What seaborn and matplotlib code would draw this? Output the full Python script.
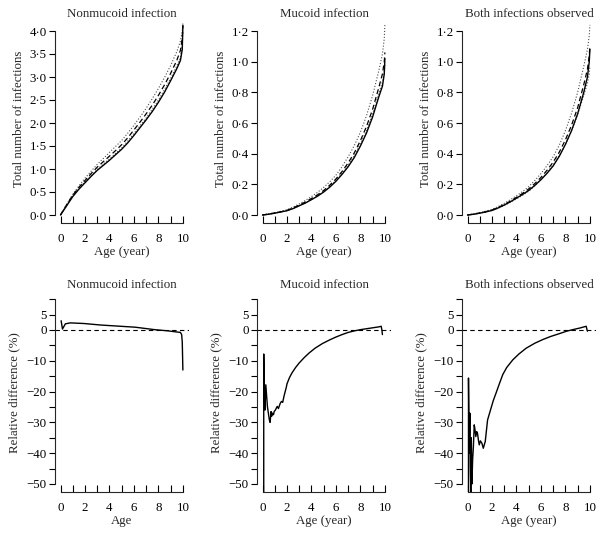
"""
Cumulative number of infections by age (top row) and relative difference
between the two estimates (bottom row), three infection types.

RUN:

python plot.py
"""
import numpy as np
import pandas as pd
import seaborn as sns
import matplotlib.pyplot as plt
from matplotlib.ticker import FuncFormatter, FixedLocator


# top row: cumulative number of infections
titles = ['Nonmucoid infection', 'Mucoid infection', 'Both infections observed']

age_grid = [0, 0.5, 1, 1.5, 2, 2.5, 3, 3.5, 4, 4.5, 5, 5.5, 6, 6.5, 7, 7.5, 8, 8.5,
            9, 9.5, 9.8, 9.95, 10]

non_solid = [0, 0.20, 0.40, 0.56, 0.70, 0.84, 0.97, 1.08, 1.19, 1.31, 1.43, 1.57, 1.73,
             1.90, 2.07, 2.25, 2.45, 2.67, 2.92, 3.18, 3.36, 3.60, 4.12]
non_dashed = [0, 0.22, 0.43, 0.60, 0.75, 0.90, 1.04, 1.16, 1.28, 1.40, 1.53, 1.68, 1.85,
              2.02, 2.20, 2.39, 2.60, 2.83, 3.08, 3.36, 3.58, 3.85, 4.12]
non_upper = [0, 0.23, 0.45, 0.63, 0.80, 0.95, 1.10, 1.23, 1.36, 1.49, 1.62, 1.78, 1.95,
             2.13, 2.32, 2.53, 2.75, 2.99, 3.25, 3.55, 3.78, 4.00, 4.17]
non_lower = [0, 0.21, 0.42, 0.58, 0.72, 0.86, 0.99, 1.11, 1.22, 1.34, 1.46, 1.61, 1.77,
             1.94, 2.11, 2.30, 2.50, 2.73, 2.97, 3.24, 3.42, 3.70, 3.98]

muc_solid = [0, 0.005, 0.012, 0.020, 0.028, 0.042, 0.060, 0.078, 0.100, 0.123, 0.150, 0.182,
             0.220, 0.265, 0.315, 0.375, 0.450, 0.535, 0.640, 0.770, 0.840, 0.920, 1.02]
muc_dashed = [0, 0.006, 0.013, 0.021, 0.030, 0.046, 0.065, 0.085, 0.108, 0.132, 0.160, 0.195,
              0.235, 0.284, 0.340, 0.405, 0.485, 0.578, 0.690, 0.830, 0.920, 1.000, 1.06]
muc_upper = [0, 0.007, 0.015, 0.024, 0.035, 0.052, 0.072, 0.095, 0.120, 0.148, 0.180, 0.217,
             0.260, 0.315, 0.380, 0.453, 0.540, 0.648, 0.780, 0.940, 1.050, 1.150, 1.24]
muc_lower = [0, 0.005, 0.012, 0.020, 0.028, 0.043, 0.060, 0.079, 0.100, 0.124, 0.152, 0.186,
             0.225, 0.272, 0.325, 0.388, 0.465, 0.552, 0.660, 0.790, 0.870, 0.930, 0.98]

both_solid = [0, 0.005, 0.012, 0.020, 0.030, 0.046, 0.065, 0.086, 0.110, 0.134, 0.160, 0.193,
              0.230, 0.272, 0.320, 0.383, 0.460, 0.550, 0.660, 0.800, 0.900, 1.000, 1.08]
both_dashed = [0, 0.006, 0.013, 0.022, 0.032, 0.049, 0.068, 0.090, 0.115, 0.141, 0.170, 0.205,
               0.245, 0.292, 0.345, 0.410, 0.490, 0.585, 0.700, 0.850, 0.950, 1.040, 1.10]
both_upper = [0, 0.007, 0.015, 0.025, 0.037, 0.055, 0.076, 0.100, 0.125, 0.153, 0.185, 0.225,
              0.270, 0.322, 0.380, 0.455, 0.550, 0.663, 0.800, 0.970, 1.080, 1.170, 1.24]
both_lower = [0, 0.005, 0.012, 0.020, 0.029, 0.044, 0.062, 0.083, 0.105, 0.129, 0.155, 0.190,
              0.232, 0.277, 0.328, 0.388, 0.460, 0.548, 0.655, 0.780, 0.860, 0.920, 0.97]

# bottom row: relative difference (%)
rd_non_age = [0.05, 0.16, 0.4, 0.8, 1.9, 3.3, 6.1, 7.7, 8.8, 9.8, 9.9, 9.95, 10.0]
rd_non = [3.0, 0.3, 2.0, 2.3, 2.1, 1.6, 0.9, 0.1, -0.3, -0.8, -1.5, -4.0, -13.0]

rd_muc_age = [0.1, 0.1, 0.15, 0.2, 0.27, 0.4, 0.55, 0.62, 0.7, 0.75, 0.8, 0.9, 0.95, 1.05,
              1.2, 1.3, 1.45, 1.55, 1.65, 1.75, 1.95, 2.0, 2.2, 2.4, 2.7, 3.0, 3.4, 3.8,
              4.3, 4.9, 5.5, 6.0, 6.5, 7.0, 7.5, 8.0, 8.5, 9.0, 9.5, 9.7, 9.75, 9.8]
rd_muc = [-53, -7.8, -20, -26, -17.8, -24.8, -29, -30, -26.5, -28, -27, -27.5, -26.5, -26,
          -24.8, -25.5, -23.8, -23.2, -23.5, -21.6, -18.5, -17.5, -15.5, -14.0, -12.2, -10.7,
          -9.0, -7.5, -5.9, -4.4, -3.2, -2.3, -1.5, -0.8, -0.3, 0.1, 0.4, 0.7, 1.0, 1.2, 0.1,
          -1.5]

rd_both_age = [0.08, 0.08, 0.14, 0.19, 0.23, 0.27, 0.31, 0.36, 0.42, 0.48, 0.55, 0.6, 0.68,
               0.75, 0.82, 0.9, 0.96, 1.05, 1.18, 1.29, 1.45, 1.64, 1.84, 2.1, 2.33, 2.6,
               2.88, 3.2, 3.7, 4.2, 4.8, 5.5, 6.16, 6.8, 7.5, 8.1, 8.6, 9.2, 9.7, 9.75, 9.8]
rd_both = [-53, -15.6, -40, -27, -45, -53, -35, -50, -42, -38, -30.8, -32, -34.6, -33,
           -33.6, -36, -37.3, -36, -36.8, -38.4, -36.2, -29.2, -26.5, -23.0, -20.5, -17.5,
           -14.5, -12.2, -9.7, -7.8, -5.9, -4.3, -3.1, -2.1, -1.2, -0.4, 0.1, 0.65, 1.2, 0.3,
           -0.4]

FONTSIZE = 9.3
W, H = 604, 534


def _axes_at(fig, left, top, width, height):
    # pixel box (origin top-left) -> figure fraction
    return fig.add_axes([left / W, 1 - (top + height) / H, width / W, height / H])


def _dot_fmt(v, pos):
    return f'{v:.1f}'.replace('.', '\u00b7')


def _minus_fmt(v, pos):
    if v in (-45, -35, -25, -15, -5, 10):
        return ''
    return f'{v:g}'.replace('-', '\u2212')


def _style(ax, xoffset):
    sns.despine(ax=ax)
    ax.spines['bottom'].set_position(('outward', xoffset))
    ax.spines['bottom'].set_bounds(0, 10)
    for s in ('left', 'bottom'):
        ax.spines[s].set_linewidth(0.8)
    ax.set_xlim(-0.45, 10.5)
    ax.xaxis.set_major_locator(FixedLocator(range(0, 11)))
    ax.set_xticklabels([str(i) if i % 2 == 0 else '' for i in range(0, 11)])
    ax.tick_params(axis='x', direction='in', length=5, width=0.8, pad=7.5,
                   labelsize=FONTSIZE, colors='black')
    ax.tick_params(axis='y', direction='out', length=4, width=0.8, pad=2,
                   labelsize=FONTSIZE, colors='black')
    ax.set_facecolor('none')


def main():
    sns.set_theme(style='ticks')
    plt.rcParams['font.family'] = ['Liberation Serif', 'DejaVu Serif']
    plt.rcParams['axes.unicode_minus'] = True

    fig = plt.figure(figsize=(W / 100, H / 100), dpi=100)
    lefts = [55, 257, 462]
    width = 134

    top_sets = [
        (non_solid, non_dashed, non_upper, non_lower, 4.0, 0.5),
        (muc_solid, muc_dashed, muc_upper, muc_lower, 1.2, 0.2),
        (both_solid, both_dashed, both_upper, both_lower, 1.2, 0.2),
    ]
    for i, (sol, das, up, lo, ymax, step) in enumerate(top_sets):
        ax = _axes_at(fig, lefts[i], 22, width, 194)
        df = pd.DataFrame({'age': age_grid, 'solid': sol, 'dashed': das,
                           'upper': up, 'lower': lo})
        for col, ls, lw, c in [('upper', ':', 0.8, '0.3'), ('lower', ':', 0.8, '0.3'),
                               ('dashed', (0, (4, 2.5)), 0.9, 'black'),
                               ('solid', '-', 1.0, 'black')]:
            sns.lineplot(data=df, x='age', y=col, ax=ax, color=c, lw=lw,
                         linestyle=ls, estimator=None, sort=False)
        ppu = 184 / ymax  # pixels per unit on y
        ax.set_ylim(-1 / ppu, ymax + 9 / ppu)
        _style(ax, 5)
        ax.spines['left'].set_bounds(0, ymax)
        ax.set_yticks(np.round(np.arange(0, ymax + step / 2, step), 2))
        ax.yaxis.set_major_formatter(FuncFormatter(_dot_fmt))
        ax.set_title(titles[i], fontsize=FONTSIZE, pad=3.5)
        ax.set_xlabel('Age (year)', fontsize=FONTSIZE, labelpad=0.5)
        ax.set_ylabel('Total number of infections', fontsize=FONTSIZE, labelpad=3)

    bottom_sets = [(rd_non_age, rd_non, 'Age'),
                   (rd_muc_age, rd_muc, 'Age (year)'),
                   (rd_both_age, rd_both, 'Age (year)')]
    for i, (age, rd, xlab) in enumerate(bottom_sets):
        ax = _axes_at(fig, lefts[i], 293, width, 198.7)
        ax.axhline(0, color='black', lw=0.8, dashes=(4, 3))
        df = pd.DataFrame({'age': age, 'rd': rd})
        sns.lineplot(data=df, x='age', y='rd', ax=ax, color='black', lw=1.0,
                     estimator=None, sort=False)
        ax.set_ylim(-52.5, 12)
        _style(ax, 0)
        ax.spines['left'].set_bounds(-50, 10)
        ax.set_yticks(np.arange(-50, 11, 5))
        ax.yaxis.set_major_formatter(FuncFormatter(_minus_fmt))
        ax.set_title(titles[i], fontsize=FONTSIZE, pad=3.5)
        ax.set_xlabel(xlab, fontsize=FONTSIZE, labelpad=0.5)
        ax.set_ylabel('Relative difference (%)', fontsize=FONTSIZE, labelpad=4.5)

    plt.savefig('out.png', dpi=100)


if __name__ == '__main__':
    main()
